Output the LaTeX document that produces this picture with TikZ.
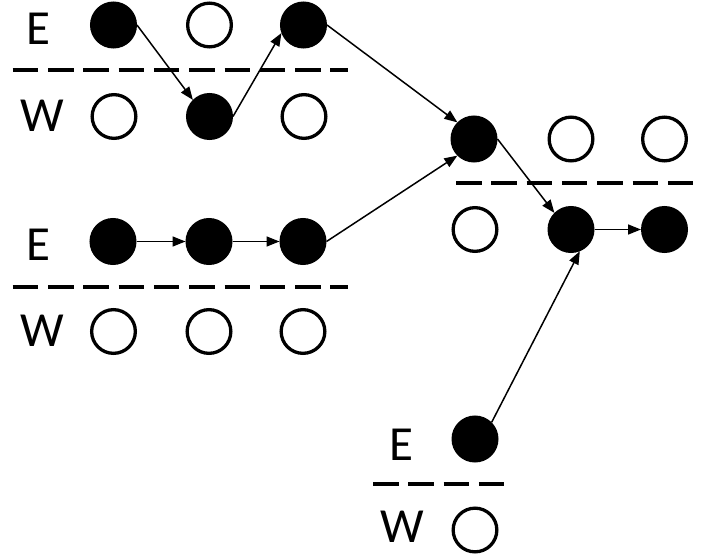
\documentclass[tikz,border=0pt]{standalone}
\usepackage{fontspec}
\setmainfont{Carlito}
\usetikzlibrary{arrows.meta}
\begin{document}
\begin{tikzpicture}[x=1pt,y=-1pt,
  fullc/.style={circle,fill=black,draw=black,line width=3pt,minimum size=44pt,inner sep=0pt},
  openc/.style={circle,fill=white,draw=black,line width=3.3pt,minimum size=43.7pt,inner sep=0pt},
  lbl/.style={inner sep=0pt,font=\fontsize{49}{52}\selectfont},
  dl/.style={line width=4pt,dash pattern=on 25.5pt off 9.8pt},
  arr/.style={-{Triangle[length=13pt,width=10pt]},line width=1.5pt}]
\useasboundingbox (0,0) rectangle (703,556);
% group 1
\node[lbl] (e1) at (38,29) {E};
\node[lbl] (w1) at (42,116) {W};
\node[fullc] (a1) at (113.5,25) {};
\node[openc] (a2) at (209.5,25) {};
\node[fullc] (a3) at (303.5,25) {};
\node[openc] (b1) at (114,116.5) {};
\node[fullc] (b2) at (209.5,116.5) {};
\node[openc] (b3) at (304,116.5) {};
\draw[dl] (12.7,70.5) -- (348,70.5);
% group 2
\node[lbl] (e2) at (38,245) {E};
\node[lbl] (w2) at (42,331) {W};
\node[fullc] (c1) at (113,241.5) {};
\node[fullc] (c2) at (209,241.5) {};
\node[fullc] (c3) at (303,241.5) {};
\node[openc] (d1) at (113.5,331.5) {};
\node[openc] (d2) at (209,331.5) {};
\node[openc] (d3) at (303,331.5) {};
\draw[dl] (12.7,287) -- (348,287);
% group 3
\node[fullc] (t1) at (474,139) {};
\node[openc] (t2) at (571,139) {};
\node[openc] (t3) at (664.5,139) {};
\node[openc] (u1) at (475,229.5) {};
\node[fullc] (u2) at (571,229.5) {};
\node[fullc] (u3) at (664.5,229.5) {};
\draw[dl] (456,183) -- (703,183);
% group 4
\node[lbl] (e4) at (401.5,445) {E};
\node[lbl] (w4) at (402,527) {W};
\node[fullc] (g1) at (475,439) {};
\node[openc] (h1) at (475,530) {};
\draw[dl] (373,484) -- (505,484);
% arrows
\draw[arr] (a1.east) -- (b2.135);
\draw[arr] (b2.east) -- (a3.200);
\draw[arr] (a3.east) -- (t1.135);
\draw[arr] (c1.east) -- (c2.west);
\draw[arr] (c2.east) -- (c3.west);
\draw[arr] (c3.east) -- (t1.225);
\draw[arr] (t1.east) -- (u2.135);
\draw[arr] (u2.east) -- (u3.west);
\draw[arr] (g1.45) -- (u2.-68);
\end{tikzpicture}
\end{document}
